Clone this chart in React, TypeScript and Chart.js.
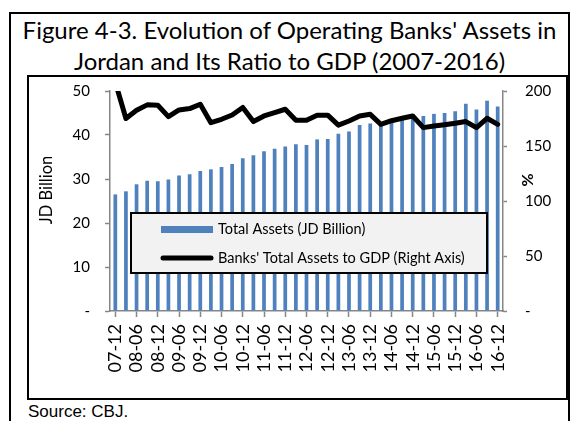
import React, { useEffect, useRef } from 'react';
import { Chart, registerables } from 'chart.js';

Chart.register(...registerables);

const categories = [
  '07-12', '08-03', '08-06', '08-09', '08-12', '09-03', '09-06', '09-09', '09-12',
  '10-03', '10-06', '10-09', '10-12', '11-03', '11-06', '11-09', '11-12',
  '12-03', '12-06', '12-09', '12-12', '13-03', '13-06', '13-09', '13-12',
  '14-03', '14-06', '14-09', '14-12', '15-03', '15-06', '15-09', '15-12',
  '16-03', '16-06', '16-09', '16-12',
];

const totalAssets = [
  26.5, 27.2, 28.8, 29.6, 29.5, 29.9, 30.8, 31.1, 31.8,
  32.2, 32.7, 33.4, 34.7, 35.4, 36.3, 36.9, 37.4,
  37.9, 37.7, 39.0, 39.1, 40.3, 40.8, 42.3, 42.6,
  42.9, 43.4, 44.1, 44.6, 44.3, 44.8, 45.0, 45.4,
  47.1, 45.8, 47.8, 46.5,
];

const assetsToGdp = [
  208, 175, 182.5, 187.4, 187, 176.7, 182.8, 184, 188,
  171.2, 174.3, 178.2, 185, 172.2, 177.3, 180.4, 183.4,
  173.5, 173.4, 178, 178, 169, 172.7, 177.3, 178.8,
  169.7, 173, 175.2, 177.3, 166.7, 168.1, 169.4, 170.6,
  172.2, 166.7, 175.2, 169.7,
];

const seriesNames = ['Total Assets (JD Billion)', "Banks' Total Assets to GDP (Right Axis)"];
const titleLines = ["Figure 4-3. Evolution of Operating Banks' Assets in", 'Jordan and Its Ratio to GDP (2007-2016)'];
const leftAxisTitle = 'JD Billion';
const rightAxisTitle = '%';
const sourceText = 'Source: CBJ.';

const BAR_COLOR = '#4f81bd';
const AXIS_COLOR = '#868686';
const FONT = 'Lato, "Open Sans", sans-serif';

const overlayPlugin = {
  id: 'overlayLegend',
  afterDatasetsDraw(chart: any) {
    const ctx = chart.ctx as CanvasRenderingContext2D;
    ctx.save();
    ctx.fillStyle = '#f2f2f2';
    ctx.fillRect(101, 135, 356, 60);
    ctx.lineWidth = 2;
    ctx.strokeStyle = '#000';
    ctx.strokeRect(101, 135, 356, 60);
    ctx.fillStyle = BAR_COLOR;
    ctx.fillRect(131, 148, 52, 7);
    ctx.beginPath();
    ctx.moveTo(133, 180);
    ctx.lineTo(181, 180);
    ctx.lineWidth = 5;
    ctx.lineCap = 'round';
    ctx.strokeStyle = '#000';
    ctx.stroke();
    ctx.fillStyle = '#000';
    ctx.font = `14.5px ${FONT}`;
    ctx.textAlign = 'left';
    ctx.textBaseline = 'middle';
    ctx.fillText(chart.data.datasets[1].label, 188, 151);
    ctx.fillText(chart.data.datasets[0].label, 188, 180);
    ctx.restore();
  },
  afterDraw(chart: any) {
    const ctx = chart.ctx as CanvasRenderingContext2D;
    ctx.save();
    ctx.fillStyle = '#000';
    ctx.textAlign = 'center';
    ctx.textBaseline = 'middle';
    ctx.font = `16.5px ${FONT}`;
    ctx.translate(17, 112);
    ctx.rotate(-Math.PI / 2);
    ctx.fillText(leftAxisTitle, 0, 0);
    ctx.restore();
    ctx.save();
    ctx.fillStyle = '#000';
    ctx.textAlign = 'center';
    ctx.textBaseline = 'middle';
    ctx.font = `bold 16px ${FONT}`;
    ctx.translate(498, 102);
    ctx.rotate(-Math.PI / 2);
    ctx.fillText(rightAxisTitle, 0, 0);
    ctx.restore();
  },
};

function ChartCanvas() {
  const ref = useRef<HTMLCanvasElement | null>(null);
  useEffect(() => {
    if (!ref.current) return;
    const chart = new Chart(ref.current, {
      type: 'bar',
      data: {
        labels: categories,
        datasets: [
          {
            type: 'line',
            label: seriesNames[1],
            data: assetsToGdp,
            yAxisID: 'y1',
            borderColor: '#000',
            backgroundColor: '#000',
            borderWidth: 5,
            pointRadius: 0,
            tension: 0,
            borderJoinStyle: 'round',
            borderCapStyle: 'round',
            order: 0,
          } as any,
          {
            type: 'bar',
            label: seriesNames[0],
            data: totalAssets,
            yAxisID: 'y',
            backgroundColor: BAR_COLOR,
            borderWidth: 0,
            barPercentage: 0.35,
            categoryPercentage: 1,
            order: 1,
          },
        ],
      },
      options: {
        responsive: false,
        animation: false,
        devicePixelRatio: 1,
        layout: { padding: { top: 13, left: 0, right: 0, bottom: 0 } },
        plugins: {
          legend: { display: false },
          tooltip: { enabled: false },
          title: { display: false },
        },
        scales: {
          x: {
            offset: true,
            afterFit: (s: any) => { s.height = 86; s.paddingLeft = 0; s.paddingRight = 0; },
            grid: {
              offset: false,
              drawOnChartArea: false,
              drawTicks: true,
              tickLength: 6,
              tickColor: (c: any) => (c.index % 2 === 0 ? AXIS_COLOR : 'rgba(0,0,0,0)'),
              tickWidth: 1.5,
            },
            border: { display: true, color: AXIS_COLOR, width: 1.5 },
            ticks: {
              autoSkip: false,
              minRotation: 90,
              maxRotation: 90,
              padding: 7,
              color: '#000',
              font: { family: FONT, size: 18 },
              callback: (_v: any, i: number) => (i % 2 === 0 ? categories[i] : ''),
            },
          },
          y: {
            position: 'left',
            min: 0,
            max: 50,
            afterFit: (s: any) => { s.width = 80; s.paddingTop = 0; s.paddingBottom = 0; },
            grid: { drawOnChartArea: false, drawTicks: true, tickLength: 5, color: AXIS_COLOR, tickWidth: 1.5 },
            border: { display: true, color: AXIS_COLOR, width: 1.5 },
            ticks: {
              stepSize: 10,
              padding: 15,
              color: '#000',
              font: { family: FONT, size: 15 },
              callback: (v: any) => (v === 0 ? '-' : String(v)),
            },
          },
          y1: {
            position: 'right',
            min: 0,
            max: 200,
            afterFit: (s: any) => { s.width = 62; s.paddingTop = 0; s.paddingBottom = 0; },
            grid: { drawOnChartArea: false, drawTicks: true, tickLength: 4, color: AXIS_COLOR, tickWidth: 1.5 },
            border: { display: true, color: AXIS_COLOR, width: 1.5 },
            ticks: {
              stepSize: 50,
              padding: 18,
              color: '#000',
              font: { family: FONT, size: 15 },
              callback: (v: any) => (v === 0 ? '-' : String(v)),
            },
          },
        },
      } as any,
      plugins: [overlayPlugin],
    });
    return () => chart.destroy();
  }, []);
  return (
    <canvas
      ref={ref}
      width={535}
      height={319}
      style={{ position: 'absolute', left: 30, top: 78, width: 535, height: 319, display: 'block' }}
    />
  );
}

export default function App() {
  return (
    <div
      style={{
        position: 'absolute', left: 0, top: 0, width: 581, height: 421,
        background: '#fff', overflow: 'hidden', fontFamily: FONT, color: '#000',
      }}
    >
      <div style={{ position: 'absolute', left: 9, top: 12, width: 557, height: 420, border: '2px solid #000' }} />
      <div style={{ position: 'absolute', left: 9, top: 14, width: 561, textAlign: 'center', fontSize: 24, lineHeight: '32px', whiteSpace: 'nowrap' }}>
        {titleLines[0]}
      </div>
      <div style={{ position: 'absolute', left: 9, top: 45, width: 561, textAlign: 'center', fontSize: 24, lineHeight: '32px', whiteSpace: 'nowrap' }}>
        {titleLines[1]}
      </div>
      <div style={{ position: 'absolute', left: 27, top: 75, width: 537, height: 321, border: '2px solid #000', background: '#fff' }} />
      <ChartCanvas />
      <div style={{ position: 'absolute', left: 28, top: 402, fontFamily: '"Liberation Sans", Arial, sans-serif', fontSize: 17, lineHeight: '20px', whiteSpace: 'nowrap' }}>
        {sourceText}
      </div>
    </div>
  );
}
